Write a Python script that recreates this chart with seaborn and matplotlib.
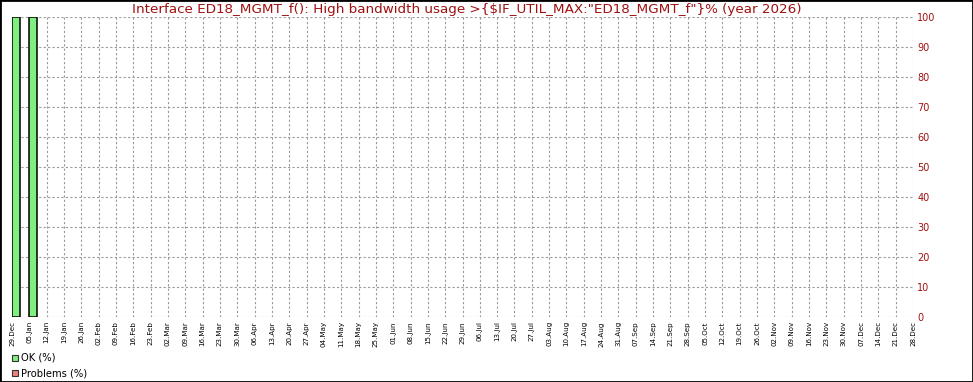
import matplotlib
matplotlib.use("Agg")
import matplotlib.pyplot as plt
from matplotlib.patches import Rectangle
import seaborn as sns
import pandas as pd

week_labels = ["29.Dec", "05.Jan", "12.Jan", "19.Jan", "26.Jan", "02.Feb", "09.Feb", "16.Feb", "23.Feb",
               "02.Mar", "09.Mar", "16.Mar", "23.Mar", "30.Mar", "06.Apr", "13.Apr", "20.Apr", "27.Apr",
               "04.May", "11.May", "18.May", "25.May", "01.Jun", "08.Jun", "15.Jun", "22.Jun", "29.Jun",
               "06.Jul", "13.Jul", "20.Jul", "27.Jul", "03.Aug", "10.Aug", "17.Aug", "24.Aug", "31.Aug",
               "07.Sep", "14.Sep", "21.Sep", "28.Sep", "05.Oct", "12.Oct", "19.Oct", "26.Oct", "02.Nov",
               "09.Nov", "16.Nov", "23.Nov", "30.Nov", "07.Dec", "14.Dec", "21.Dec", "28.Dec"]
weeks = week_labels[:-1]
ok_values = [100, 100] + [0] * 50
problem_values = [0] * 52
y_ticks = [0, 10, 20, 30, 40, 50, 60, 70, 80, 90, 100]
title = 'Interface ED18_MGMT_f(): High bandwidth usage >{$IF_UTIL_MAX:"ED18_MGMT_f"}% (year 2026)'

ok_color = "#80EE80"
prob_color = "#EE8080"
red = "#A01010"

sns.set_theme(style="white")
plt.rcParams["font.family"] = ["DejaVu Sans"]

W, H = 973, 382
fig = plt.figure(figsize=(W / 100, H / 100), dpi=100)
ax = fig.add_axes([12 / W, (H - 317) / H, (913 - 12) / W, 300 / H])

df = pd.DataFrame({"week": weeks, "ok": ok_values, "problems": problem_values})
bw = 0.47
sns.barplot(data=df, x="week", y="ok", order=weeks, color=ok_color, width=bw,
            edgecolor="black", linewidth=1.1, saturation=1, ax=ax)
for p in ax.patches:
    if p.get_height() == 0:
        p.set_visible(False)

ax.set_xlim(-bw / 2, 52 - bw / 2)
ax.set_ylim(0, 100)
ax.set_xticks([i - bw / 2 for i in range(len(week_labels))])
ax.set_xticklabels(week_labels, rotation=90, fontsize=5.1)
ax.set_yticks(y_ticks)
ax.yaxis.tick_right()
ax.tick_params(axis="y", labelsize=7, colors=red, length=0, pad=3)
ax.tick_params(axis="x", length=0, pad=3, colors="black")
ax.set_xlabel("")
ax.set_ylabel("")
ax.grid(True, color="#999999", linestyle=(0, (2, 2)), linewidth=0.8)
ax.set_axisbelow(True)
for s in ax.spines.values():
    s.set_visible(False)

fig.text(467 / W, 1 - 9 / H, title, ha="center", va="center", fontsize=9.7, color=red)

# legend
for i, (lab, col) in enumerate([("OK (%)", ok_color), ("Problems (%)", prob_color)]):
    yc = 358 + i * 15
    fig.patches.append(Rectangle((12 / W, 1 - (yc + 3) / H), 6 / W, 6 / H,
                                 transform=fig.transFigure, facecolor=col,
                                 edgecolor="#333333", linewidth=0.8))
    fig.text(21 / W, 1 - yc / H, lab, ha="left", va="center", fontsize=7.2, color="black")

fig.patches.append(Rectangle((0, 0), 1, 1, transform=fig.transFigure, fill=False,
                             edgecolor="black", linewidth=2))

fig.savefig("out.png", dpi=100)
